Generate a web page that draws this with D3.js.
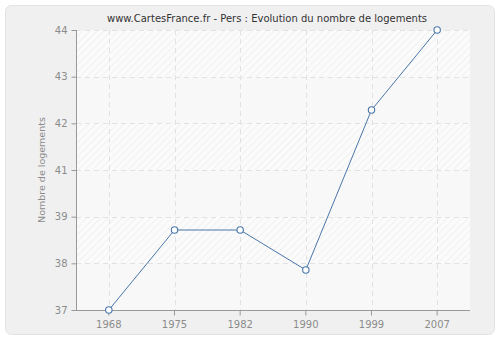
<!DOCTYPE html>
<html>
<head>
<meta charset="utf-8">
<script src="https://cdn.jsdelivr.net/npm/d3@7"></script>
<style>
  html, body { margin: 0; padding: 0; background: #fff; }
  svg { display: block; font-family: 'DejaVu Sans', Verdana, sans-serif; }
</style>
</head>
<body>
<div id="chart"></div>
<script>
const years = ['1968', '1975', '1982', '1990', '1999', '2007'];
const logements = [37, 39, 39, 38, 42, 44];
const yDomain = [37, 44];
const yTickLabels = ['37', '38', '39', '41', '42', '43', '44'];

const W = 500, H = 340;
const margin = {top: 30, right: 30, bottom: 30, left: 76};

const svg = d3.select('#chart').append('svg')
    .attr('width', W)
    .attr('height', H);

// hatch pattern for the plot area
const defs = svg.append('defs');
const pat = defs.append('pattern')
    .attr('id', 'hatch')
    .attr('patternUnits', 'userSpaceOnUse')
    .attr('width', 5).attr('height', 5)
    .attr('patternTransform', 'rotate(45)');
pat.append('rect').attr('width', 5).attr('height', 5).attr('fill', '#fbfbfb');
pat.append('line')
    .attr('x1', 0).attr('y1', 0).attr('x2', 0).attr('y2', 5)
    .attr('stroke', '#ebebeb').attr('stroke-width', 1.2);

// outer panel
svg.append('rect')
    .attr('x', 5.5).attr('y', 5.5)
    .attr('width', W - 11).attr('height', H - 11)
    .attr('rx', 6)
    .attr('fill', '#f0f0f0')
    .attr('stroke', '#e2e2e2');

const innerW = W - margin.left - margin.right;
const innerH = H - margin.top - margin.bottom;

const x = d3.scaleBand().domain(years).range([margin.left, margin.left + innerW]);
const y = d3.scaleLinear().domain(yDomain).range([margin.top + innerH, margin.top]);

const yTicks = d3.range(yTickLabels.length).map(function (i) {
    return yDomain[0] + i * (yDomain[1] - yDomain[0]) / (yTickLabels.length - 1);
});

// plot background with alternating bands
svg.append('rect')
    .attr('x', margin.left).attr('y', margin.top)
    .attr('width', innerW).attr('height', innerH)
    .attr('fill', 'url(#hatch)');

const bands = [];
for (let i = 0; i < yTicks.length - 1; i++) bands.push([yTicks[i], yTicks[i + 1], i]);
svg.selectAll('.band')
    .data(bands.filter(function (b) { return (yTicks.length - 2 - b[2]) % 2 === 1; }))
    .enter().append('rect')
    .attr('class', 'band')
    .attr('x', margin.left)
    .attr('y', function (d) { return y(d[1]); })
    .attr('width', innerW)
    .attr('height', function (d) { return y(d[0]) - y(d[1]); })
    .attr('fill', '#f8f8f8');

// grid
svg.selectAll('.hgrid')
    .data(yTicks.slice(1))
    .enter().append('line')
    .attr('class', 'hgrid')
    .attr('x1', margin.left).attr('x2', margin.left + innerW)
    .attr('y1', function (d) { return Math.round(y(d)) + 0.5; })
    .attr('y2', function (d) { return Math.round(y(d)) + 0.5; })
    .attr('stroke', '#e2e2e2')
    .attr('stroke-dasharray', '5,4');

svg.selectAll('.vgrid')
    .data(years)
    .enter().append('line')
    .attr('class', 'vgrid')
    .attr('x1', function (d) { return Math.round(x(d) + x.bandwidth() / 2) + 0.5; })
    .attr('x2', function (d) { return Math.round(x(d) + x.bandwidth() / 2) + 0.5; })
    .attr('y1', margin.top).attr('y2', margin.top + innerH)
    .attr('stroke', '#e2e2e2')
    .attr('stroke-dasharray', '5,4');

// axes
const yAxis = d3.axisLeft(y)
    .tickValues(yTicks)
    .tickFormat(function (d, i) { return yTickLabels[i]; })
    .tickSize(5)
    .tickPadding(4);
const gy = svg.append('g')
    .attr('transform', 'translate(' + (margin.left + 0.5) + ',0)')
    .call(yAxis);

const xAxis = d3.axisBottom(x).tickSize(5).tickPadding(5);
const gx = svg.append('g')
    .attr('transform', 'translate(0,' + (margin.top + innerH + 0.5) + ')')
    .call(xAxis);

[gy, gx].forEach(function (g) {
    g.select('.domain').remove();
    g.selectAll('.tick line').attr('stroke', '#999');
    g.selectAll('.tick text').attr('fill', '#8c8c8c').attr('font-size', 10)
        .attr('font-family', "'DejaVu Sans', Verdana, sans-serif");
});
svg.append('line')
    .attr('x1', margin.left + 0.5).attr('x2', margin.left + 0.5)
    .attr('y1', margin.top).attr('y2', margin.top + innerH + 0.5)
    .attr('stroke', '#999');
svg.append('line')
    .attr('x1', margin.left).attr('x2', margin.left + innerW)
    .attr('y1', margin.top + innerH + 0.5).attr('y2', margin.top + innerH + 0.5)
    .attr('stroke', '#999');

// line + points
const line = d3.line()
    .x(function (d, i) { return x(years[i]) + x.bandwidth() / 2; })
    .y(function (d) { return y(d); });

svg.append('path')
    .datum(logements)
    .attr('d', line)
    .attr('fill', 'none')
    .attr('stroke', '#4a76a8')
    .attr('stroke-width', 1);

svg.selectAll('.pt')
    .data(logements)
    .enter().append('circle')
    .attr('class', 'pt')
    .attr('cx', function (d, i) { return x(years[i]) + x.bandwidth() / 2; })
    .attr('cy', function (d) { return y(d); })
    .attr('r', 3.2)
    .attr('fill', '#fff')
    .attr('stroke', '#4a76a8')
    .attr('stroke-width', 1.1);

// title and y label
svg.append('text')
    .attr('x', 267).attr('y', 22)
    .attr('text-anchor', 'middle')
    .attr('font-size', 10)
    .attr('fill', '#333')
    .text('www.CartesFrance.fr - Pers : Evolution du nombre de logements');

svg.append('text')
    .attr('transform', 'translate(45,' + (margin.top + innerH / 2) + ') rotate(-90)')
    .attr('text-anchor', 'middle')
    .attr('font-size', 9.5)
    .attr('fill', '#8c8c8c')
    .text('Nombre de logements');
</script>
</body>
</html>
